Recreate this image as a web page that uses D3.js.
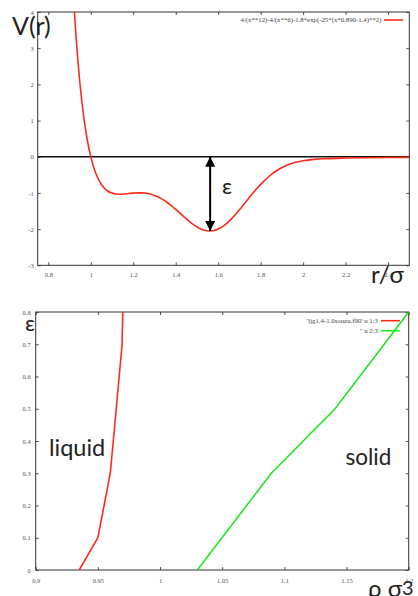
<!DOCTYPE html>
<html><head><meta charset="utf-8">
<script src="https://cdn.jsdelivr.net/npm/d3@7"></script>
<style>
body{margin:0;background:#fff;}
svg{display:block;}
.tick text{font-family:"Liberation Serif",serif;font-size:6.5px;fill:#555;}
.tick line{stroke:#555;}
.big{font-family:Lato,"DejaVu Sans",sans-serif;fill:#222;}
.leg{font-family:"Liberation Serif",serif;font-size:6.8px;fill:#444;}
</style></head>
<body>
<script>
// ---- top chart: potential V(r) ----
const rVals = [0.90,0.92,0.94,0.96,0.98,1.00,1.02,1.04,1.06,1.08,1.10,1.12,1.14,1.16,1.18,1.20,1.22,1.24,1.26,1.28,1.30,1.32,1.34,1.36,1.38,1.40,1.42,1.44,1.46,1.48,1.50,1.52,1.54,1.56,1.58,1.60,1.62,1.64,1.66,1.68,1.70,1.72,1.74,1.76,1.78,1.80,1.84,1.88,1.92,1.96,2.00,2.05,2.10,2.20,2.30,2.40,2.50];
const vVals = [6.64,4.283,2.606,1.417,0.580,-0.003,-0.402,-0.669,-0.842,-0.947,-1.005,-1.031,-1.036,-1.029,-1.017,-1.005,-0.998,-0.998,-1.008,-1.032,-1.068,-1.120,-1.186,-1.265,-1.356,-1.456,-1.560,-1.666,-1.768,-1.861,-1.940,-2.001,-2.039,-2.052,-2.039,-1.999,-1.932,-1.842,-1.732,-1.605,-1.467,-1.322,-1.175,-1.031,-0.893,-0.763,-0.539,-0.367,-0.244,-0.162,-0.110,-0.073,-0.054,-0.036,-0.027,-0.021,-0.016];
const xTicksTop = [0.8,1,1.2,1.4,1.6,1.8,2,2.2,2.4];
const yTicksTop = [-3,-2,-1,0,1,2,3,4];
const legendTop = "4/(x**12)-4/(x**6)-1.8*exp(-25*(x*0.890-1.4)**2)";
const epsArrow = {r:1.562, v0:0, v1:-2.052};

// ---- bottom chart: phase boundaries ----
const liqRho = [0.935,0.95,0.96,0.9648,0.9695,0.970];
const liqEps = [0,0.1,0.3,0.5,0.7,0.8];
const solRho = [1.030,1.0895,1.1408,1.200];
const solEps = [0,0.3,0.5,0.8];
const xTicksBot = [0.9,0.95,1,1.05,1.1,1.15,1.2];
const yTicksBot = [0,0.1,0.2,0.3,0.4,0.5,0.6,0.7,0.8];
const legendBot = ["'ljg1.4-1.0souzu.f90' u 1:3","'' u 2:3"];

const W=418,H=596;
const svg=d3.select("body").append("svg").attr("width",W).attr("height",H);
const defs=svg.append("defs");

function frame(x,y,xt,yt,xfmt,yfmt,padX,padY,id){
  const [x0,x1]=x.range(), [y0,y1]=y.range();
  defs.append("clipPath").attr("id",id).append("rect")
    .attr("x",x0).attr("y",y1).attr("width",x1-x0).attr("height",y0-y1);
  svg.append("g").attr("transform",`translate(0,${y0})`)
    .call(d3.axisBottom(x).tickValues(xt).tickFormat(xfmt).tickSize(-3).tickSizeOuter(0).tickPadding(padX));
  svg.append("g").attr("transform",`translate(0,${y1})`)
    .call(d3.axisTop(x).tickValues(xt).tickFormat("").tickSize(-3).tickSizeOuter(0));
  svg.append("g").attr("transform",`translate(${x0},0)`)
    .call(d3.axisLeft(y).tickValues(yt).tickFormat(yfmt).tickSize(-3).tickSizeOuter(0).tickPadding(padY));
  svg.append("g").attr("transform",`translate(${x1},0)`)
    .call(d3.axisRight(y).tickValues(yt).tickFormat("").tickSize(-3).tickSizeOuter(0));
  svg.selectAll(".domain").attr("stroke","none");
  svg.append("rect").attr("x",x0).attr("y",y1).attr("width",x1-x0).attr("height",y0-y1)
    .attr("fill","none").attr("stroke","#333").attr("stroke-width",1);
}

// top
const x1s=d3.scaleLinear([0.75,2.5],[37.7,409.3]);
const y1s=d3.scaleLinear([-3,4],[265.3,12]);
frame(x1s,y1s,xTicksTop,yTicksTop,d=>String(d),d=>String(d),7,4,"c1");
svg.append("line").attr("x1",x1s(0.75)).attr("x2",x1s(2.5)).attr("y1",y1s(0)).attr("y2",y1s(0))
  .attr("stroke","#111").attr("stroke-width",1.3);
const pts=rVals.map((r,i)=>[r,vVals[i]]);
svg.append("path").datum(pts).attr("clip-path","url(#c1)")
  .attr("d",d3.line().x(d=>x1s(d[0])).y(d=>y1s(d[1])).curve(d3.curveMonotoneX))
  .attr("fill","none").attr("stroke","#ff2a1a").attr("stroke-width",1.6);
svg.append("text").attr("class","leg").attr("x",381.5).attr("y",22.3).attr("text-anchor","end").text(legendTop);
svg.append("line").attr("x1",384).attr("x2",403).attr("y1",20).attr("y2",20).attr("stroke","#ff2a1a").attr("stroke-width",1.6);
defs.append("marker").attr("id","ah").attr("viewBox","0 0 10 10").attr("refX",10).attr("refY",5)
  .attr("markerWidth",5).attr("markerHeight",5).attr("orient","auto-start-reverse")
  .append("path").attr("d","M0,0 L10,5 L0,10 Z").attr("fill","#000");
svg.append("line").attr("x1",x1s(epsArrow.r)).attr("x2",x1s(epsArrow.r))
  .attr("y1",y1s(epsArrow.v0)).attr("y2",y1s(epsArrow.v1))
  .attr("stroke","#000").attr("stroke-width",2)
  .attr("marker-start","url(#ah)").attr("marker-end","url(#ah)");
svg.append("text").attr("class","big").attr("x",222).attr("y",193.5).attr("font-size",22).text("ε");
svg.append("text").attr("class","big").attr("x",12).attr("y",35).attr("font-size",25).text("V(r)");
svg.append("text").attr("class","big").attr("x",371).attr("y",283).attr("font-size",24).text("r/σ");

// bottom
const x2s=d3.scaleLinear([0.9,1.2],[35.7,408.7]);
const y2s=d3.scaleLinear([0,0.8],[570,312]);
frame(x2s,y2s,xTicksBot,yTicksBot,d=>String(d),d=>String(d),8,5,"c2");
const ln2=d3.line().x(d=>x2s(d[0])).y(d=>y2s(d[1]));
svg.append("path").datum(liqRho.map((r,i)=>[r,liqEps[i]])).attr("clip-path","url(#c2)")
  .attr("d",ln2).attr("fill","none").attr("stroke","#ff2a1a").attr("stroke-width",1.6);
svg.append("path").datum(solRho.map((r,i)=>[r,solEps[i]])).attr("clip-path","url(#c2)")
  .attr("d",ln2).attr("fill","none").attr("stroke","#1ee81e").attr("stroke-width",1.6);
svg.append("text").attr("class","leg").attr("x",378).attr("y",323).attr("text-anchor","end").text(legendBot[0]);
svg.append("line").attr("x1",381).attr("x2",400).attr("y1",320.7).attr("y2",320.7).attr("stroke","#ff2a1a").attr("stroke-width",1.6);
svg.append("text").attr("class","leg").attr("x",378).attr("y",333).attr("text-anchor","end").text(legendBot[1]);
svg.append("line").attr("x1",381).attr("x2",400).attr("y1",330.7).attr("y2",330.7).attr("stroke","#1ee81e").attr("stroke-width",1.6);
svg.append("text").attr("class","big").attr("x",25).attr("y",331).attr("font-size",22).text("ε");
svg.append("text").attr("class","big").attr("x",49).attr("y",456).attr("font-size",23.5).text("liquid");
svg.append("text").attr("class","big").attr("x",345.5).attr("y",465).attr("font-size",22.5).text("solid");
const rl=svg.append("text").attr("class","big").attr("x",368).attr("y",597).attr("font-size",24);
rl.append("tspan").text("ρ σ");
rl.append("tspan").attr("dy",-2).attr("font-size",20).text("3");
</script>
</body></html>
